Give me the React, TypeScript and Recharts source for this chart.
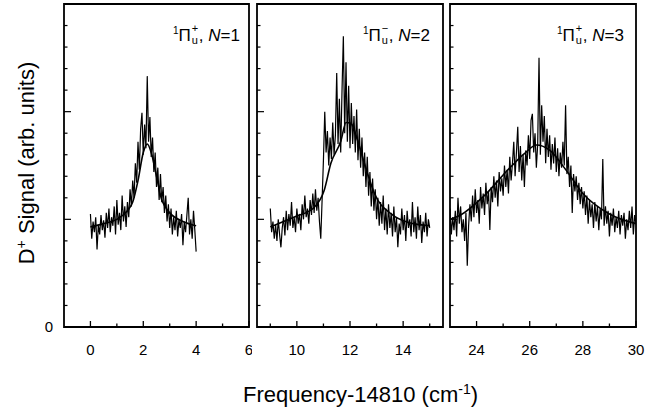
import React from "react";
import { LineChart, Line, XAxis, YAxis, ReferenceArea } from "recharts";

const FONT = '"Liberation Sans", Arial, Helvetica, sans-serif';
const STEP = 0.05;

// panel 1: 1Πu+, N=1
const signal1Start = 0;
const signal1 = [
  1.05, 0.82, 0.98, 0.88, 1.02, 0.72, 0.95, 0.86, 1.04, 0.9,
  0.99, 0.83, 1.06, 0.92, 1.1, 0.88, 1.02, 0.94, 1.12, 0.86,
  1.18, 0.95, 1.06, 0.9, 1.22, 0.98, 1.12, 0.93, 1.16, 1.02,
  1.28, 1.12, 1.36, 1.2, 1.52, 1.34, 1.72, 1.46, 1.84, 1.99,
  1.6, 1.88, 1.66, 2.33, 1.72, 1.95, 1.58, 1.76, 1.44, 1.62,
  1.3, 1.48, 1.18, 1.42, 1.16, 1.3, 1.06, 1.22, 0.98, 1.14,
  0.92, 1.1, 0.86, 1.02, 0.9, 1.08, 0.84, 1.0, 0.92, 1.05,
  0.76, 0.98, 0.88, 1.04, 1.2, 0.86, 1.0, 0.82, 1.08, 0.9,
  0.7,
];
const fit1X = [0, 0.5, 1.0, 1.4, 1.6, 1.8, 2.0, 2.15, 2.3, 2.5, 2.7, 2.8, 3.0, 3.5, 4.0];
const fit1Y = [0.93, 0.96, 1.0, 1.08, 1.16, 1.36, 1.62, 1.7, 1.62, 1.4, 1.18, 1.13, 1.06, 0.98, 0.94];

// panel 2: 1Πu-, N=2
const signal2Start = 9;
const signal2 = [
  1.1, 0.88, 0.98, 0.82, 0.95, 0.8, 1.0, 0.86, 0.74, 0.92,
  1.02, 0.85, 1.08, 0.9, 1.05, 0.94, 1.16, 0.92, 1.02, 0.88,
  1.1, 0.96, 1.05, 0.9, 1.14, 1.0, 1.22, 1.02, 1.1, 0.96,
  1.18, 1.04, 1.24, 1.06, 1.28, 1.08, 1.2, 0.98, 0.82, 1.18,
  1.55, 2.0, 1.62, 1.82, 1.5, 1.76, 1.56, 1.9, 1.6, 1.78,
  2.36, 1.7, 2.12, 1.62, 2.2, 2.7, 1.8, 2.46, 1.72, 2.24,
  1.66, 2.08, 1.7, 1.96, 1.62, 2.02, 1.55, 1.84, 1.48, 1.76,
  1.4, 1.62, 1.3, 1.58, 1.22, 1.44, 1.12, 1.38, 1.08, 1.28,
  1.0, 1.2, 0.94, 1.16, 0.96, 1.22, 0.9, 1.1, 0.86, 1.14,
  0.92, 1.06, 0.84, 1.12, 0.88, 1.02, 0.74, 0.96, 0.86, 1.1,
  0.9, 1.04, 0.8, 1.08, 0.92, 1.0, 0.84, 1.16, 0.88, 1.02,
  0.82, 1.12, 0.9, 1.04, 0.78, 0.98, 0.88, 1.06, 0.84, 1.0,
  0.92,
];
const fit2X = [9.0, 9.5, 10.0, 10.65, 11.03, 11.28, 11.66, 11.85, 12.04, 12.29, 12.54, 12.92, 13.55, 14.2, 15.0];
const fit2Y = [0.93, 0.98, 1.03, 1.11, 1.27, 1.52, 1.73, 1.9, 1.89, 1.73, 1.52, 1.24, 1.05, 0.97, 0.94];

// panel 3: 1Πu+, N=3
const signal3Start = 23;
const signal3 = [
  1.1, 0.86, 1.02, 0.9, 1.08, 0.84, 1.2, 0.96, 1.12, 0.88,
  1.0, 0.8, 1.06, 0.57, 0.94, 1.14, 0.98, 1.22, 1.02, 1.28,
  1.06, 1.18, 0.96, 1.3, 1.1, 1.24, 1.04, 1.34, 1.14, 1.26,
  0.9, 1.3, 1.16, 1.4, 1.2, 1.36, 1.12, 1.44, 1.26, 1.38,
  1.22, 1.5, 1.3, 1.46, 1.24, 1.58, 1.36, 1.52, 1.72, 1.4,
  1.62, 1.86, 1.44, 1.68, 1.36, 1.6, 1.3, 1.64, 1.5, 1.78,
  1.56, 1.92, 1.98, 1.62, 1.8, 1.48, 1.7, 2.5, 1.6, 2.06,
  1.72, 1.96, 1.52, 1.84, 1.58, 1.78, 1.46, 1.7, 1.52, 1.76,
  1.44, 1.66, 1.4, 1.62, 1.48, 1.72, 1.5, 2.06, 1.42, 1.58,
  1.3, 1.5, 1.06, 1.42, 1.26, 1.4, 1.18, 1.34, 1.14, 1.3,
  1.1, 1.26, 1.04, 1.22, 0.96, 1.18, 1.02, 1.14, 0.92, 1.16,
  0.98, 1.12, 0.9, 1.1, 1.0, 1.56, 0.94, 1.12, 0.96, 1.08,
  0.84, 1.06, 0.94, 1.1, 0.88, 1.02, 0.92, 1.08, 0.86, 1.04,
  0.94, 1.06, 0.82, 1.0, 0.9, 1.08, 0.92, 1.12, 0.86, 1.04,
  0.96,
];
const fit3X = [23, 23.4, 24.25, 25.26, 25.8, 26.26, 26.76, 27.39, 28.0, 29.0, 30];
const fit3Y = [1.0, 1.04, 1.21, 1.48, 1.61, 1.69, 1.64, 1.45, 1.24, 1.05, 0.96];

const xTicks1 = [0, 1, 2, 3, 4, 5, 6];
const xMajor1 = [0, 2, 4, 6];
const xTicks2 = [9, 10, 11, 12, 13, 14, 15];
const xMajor2 = [10, 12, 14];
const xTicks3 = [24, 25, 26, 27, 28, 29, 30];
const xMajor3 = [24, 26, 28, 30];
const yTicks = [0, 0.2, 0.4, 0.6, 0.8, 1, 1.2, 1.4, 1.6, 1.8, 2, 2.2, 2.4, 2.6, 2.8, 3];

const toRows = (start: number, ys: number[]) =>
  ys.map((y, i) => ({ x: +(start + i * STEP).toFixed(2), y }));
const zipRows = (xs: number[], ys: number[]) => xs.map((x, i) => ({ x, y: ys[i] }));

function XTick(props: any) {
  const { x, y, payload, majors } = props;
  const major = majors.includes(payload.value);
  return (
    <g>
      <line x1={x} x2={x} y1={y} y2={y - (major ? 6 : 3.5)} stroke="#000" strokeWidth={1.3} />
      {major && (
        <text x={x} y={y + 28} textAnchor="middle" fontSize={15} fontFamily={FONT} fill="#000">
          {payload.value}
        </text>
      )}
    </g>
  );
}

function YTick(props: any) {
  const { x, y, payload, showLabel } = props;
  const v = payload.value;
  const major = Math.abs(v - Math.round(v)) < 1e-6;
  return (
    <g>
      <line x1={x} x2={x + (major ? 7 : 3.5)} y1={y} y2={y} stroke="#000" strokeWidth={1.2} />
      {showLabel && v === 0 && (
        <text x={x - 11} y={y + 5} textAnchor="end" fontSize={15} fontFamily={FONT} fill="#000">
          0
        </text>
      )}
    </g>
  );
}

function Panel(props: any) {
  const { left, width, yAxisWidth, marginRight, domain, ticks, majors, signal, fit, showYLabel } = props;
  return (
    <div style={{ position: "absolute", left, top: 0 }}>
      <LineChart width={width} height={370} margin={{ top: 4, right: marginRight, bottom: 0, left: 0 }}>
        <XAxis
          type="number"
          dataKey="x"
          domain={domain}
          ticks={ticks}
          interval={0}
          allowDataOverflow
          height={43}
          axisLine={false}
          tickLine={false}
          tickSize={0}
          tickMargin={0}
          tick={(p: any) => <XTick {...p} majors={majors} />}
        />
        <YAxis
          type="number"
          domain={[0, 3]}
          ticks={yTicks}
          interval={0}
          allowDataOverflow
          width={yAxisWidth}
          axisLine={false}
          tickLine={false}
          tickSize={0}
          tickMargin={0}
          tick={(p: any) => <YTick {...p} showLabel={showYLabel} />}
        />
        <ReferenceArea
          x1={domain[0]}
          x2={domain[1]}
          y1={0}
          y2={3}
          fill="none"
          fillOpacity={0}
          stroke="#000"
          strokeWidth={1.8}
          ifOverflow="visible"
        />
        <Line data={signal} dataKey="y" type="linear" stroke="#000" strokeWidth={1.2} dot={false} isAnimationActive={false} />
        <Line data={fit} dataKey="y" type="monotone" stroke="#000" strokeWidth={1.6} dot={false} isAnimationActive={false} />
      </LineChart>
    </div>
  );
}

function StateLabel({ right, sign, n }: { right: number; sign: string; n: number }) {
  return (
    <div
      style={{
        position: "absolute",
        right: 645 - right,
        top: 21,
        fontFamily: FONT,
        fontSize: 17,
        lineHeight: "20px",
        whiteSpace: "nowrap",
        color: "#000",
      }}
    >
      <span style={{ fontSize: 10, verticalAlign: "7px" }}>1</span>
      {"\u03A0"}
      <span style={{ display: "inline-block", position: "relative", width: 8, height: 1 }}>
        <span style={{ position: "absolute", left: 1, top: -17, fontSize: 11, lineHeight: "11px" }}>{sign}</span>
        <span style={{ position: "absolute", left: 1, top: -5, fontSize: 11, lineHeight: "11px" }}>u</span>
      </span>
      , <i>N</i>={n}
    </div>
  );
}

export default function App() {
  return (
    <div style={{ position: "absolute", left: 0, top: 0, width: 645, height: 407, background: "#fff", overflow: "hidden" }}>
      <Panel
        left={0}
        width={252}
        yAxisWidth={64}
        marginRight={3}
        domain={[-1, 6]}
        ticks={xTicks1}
        majors={xMajor1}
        signal={toRows(signal1Start, signal1)}
        fit={zipRows(fit1X, fit1Y)}
        showYLabel
      />
      <Panel
        left={247}
        width={199}
        yAxisWidth={10}
        marginRight={3}
        domain={[8.5, 15.5]}
        ticks={xTicks2}
        majors={xMajor2}
        signal={toRows(signal2Start, signal2)}
        fit={zipRows(fit2X, fit2Y)}
      />
      <Panel
        left={440}
        width={205}
        yAxisWidth={10}
        marginRight={9}
        domain={[23, 30]}
        ticks={xTicks3}
        majors={xMajor3}
        signal={toRows(signal3Start, signal3)}
        fit={zipRows(fit3X, fit3Y)}
      />
      <StateLabel right={240} sign="+" n={1} />
      <StateLabel right={430} sign={"\u2212"} n={2} />
      <StateLabel right={624} sign="+" n={3} />
      <div
        style={{
          position: "absolute",
          left: 21 - 140,
          top: 163 - 14,
          width: 280,
          height: 28,
          lineHeight: "28px",
          textAlign: "center",
          transform: "rotate(-90deg)",
          fontFamily: FONT,
          fontSize: 22,
          color: "#000",
          whiteSpace: "nowrap",
        }}
      >
        D<span style={{ fontSize: 14, verticalAlign: "8px" }}>+</span> Signal (arb. units)
      </div>
      <div
        style={{
          position: "absolute",
          left: 243,
          top: 376,
          fontFamily: FONT,
          fontSize: 22,
          lineHeight: "26px",
          color: "#000",
          whiteSpace: "nowrap",
        }}
      >
        Frequency-14810 (cm<span style={{ fontSize: 14, verticalAlign: "8px" }}>-1</span>)
      </div>
    </div>
  );
}
